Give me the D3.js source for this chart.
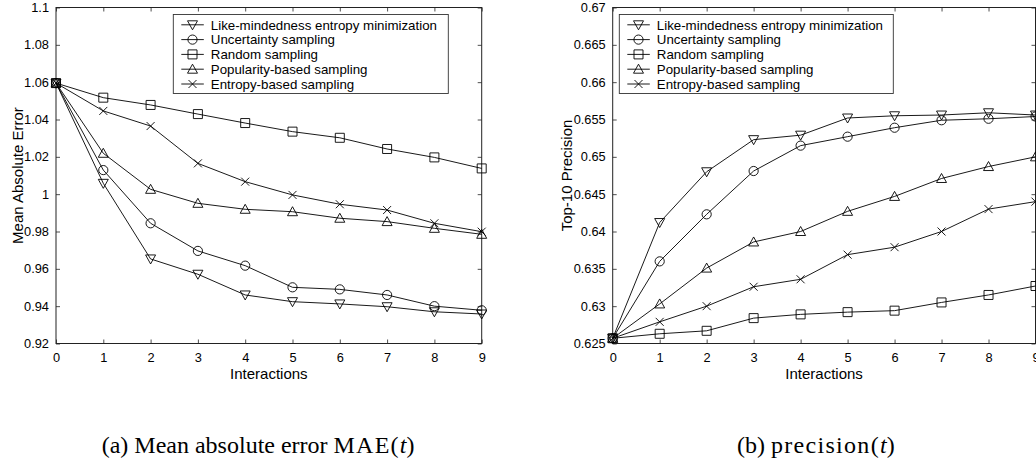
<!DOCTYPE html>
<html><head><meta charset="utf-8">
<script src="https://cdn.jsdelivr.net/npm/d3@7"></script>
<style>
body{margin:0;background:#fff;}
svg{display:block;}
text{font-family:"Liberation Sans",Arial,sans-serif;fill:#000;}
.cap{font-family:"Liberation Serif","Times New Roman",serif;}
</style></head>
<body><svg id="c" width="1036" height="462"></svg>
<script>
const interactions = [0,1,2,3,4,5,6,7,8,9];
const seriesNames = ["Like-mindedness entropy minimization","Uncertainty sampling","Random sampling","Popularity-based sampling","Entropy-based sampling"];
const markerTypes = ["tridown","circle","square","triup","cross"];

const maeLike = [1.0595,1.0058,0.9653,0.9571,0.9460,0.9424,0.9412,0.9397,0.9370,0.9358];
const maeUnc  = [1.0595,1.0129,0.9844,0.9696,0.9617,0.9501,0.9490,0.9460,0.9400,0.9378];
const maeRand = [1.0595,1.0517,1.0478,1.0429,1.0381,1.0335,1.0302,1.0242,1.0197,1.0138];
const maePop  = [1.0595,1.0219,1.0026,0.9951,0.9919,0.9906,0.9871,0.9853,0.9817,0.9785];
const maeEnt  = [1.0595,1.0446,1.0365,1.0165,1.0067,0.9996,0.9946,0.9915,0.9844,0.9799];

const precLike = [0.6257,0.6412,0.6480,0.6523,0.6529,0.6552,0.6555,0.6556,0.6559,0.6556];
const precUnc  = [0.6257,0.6360,0.6423,0.6481,0.6515,0.6527,0.6539,0.6549,0.6551,0.6554];
const precRand = [0.6257,0.6263,0.6267,0.6284,0.6289,0.6292,0.6294,0.6305,0.6315,0.6327];
const precPop  = [0.6257,0.6303,0.6351,0.6386,0.6400,0.6427,0.6447,0.6471,0.6487,0.6500];
const precEnt  = [0.6257,0.6279,0.6300,0.6326,0.6336,0.6369,0.6379,0.6400,0.6430,0.6440];

const maeTicks = [0.92,0.94,0.96,0.98,1,1.02,1.04,1.06,1.08,1.1];
const maeTickLabels = ["0.92","0.94","0.96","0.98","1","1.02","1.04","1.06","1.08","1.1"];
const precTicks = [0.625,0.63,0.635,0.64,0.645,0.65,0.655,0.66,0.665,0.67];
const precTickLabels = ["0.625","0.63","0.635","0.64","0.645","0.65","0.655","0.66","0.665","0.67"];

const svg = d3.select("#c");
svg.append("rect").attr("width",1036).attr("height",462).attr("fill","#fff");

function markerPath(type){
  switch(type){
    case "tridown": return "M-5,-4L5,-4L0,5Z";
    case "triup": return "M-5,4L5,4L0,-5Z";
    case "square": return "M-4.5,-4.5H4.5V4.5H-4.5Z";
    case "cross": return "M-4,-4L4,4M-4,4L4,-4";
  }
}
function drawMarker(g, type, x, y){
  if(type==="circle"){
    g.append("circle").attr("cx",x).attr("cy",y).attr("r",4.6)
      .attr("fill","none").attr("stroke","#000").attr("stroke-width",0.9);
  } else {
    g.append("path").attr("d",markerPath(type)).attr("transform",`translate(${x},${y})`)
      .attr("fill","none").attr("stroke","#000").attr("stroke-width",0.9);
  }
}

function chart(cfg){
  const x = d3.scaleLinear().domain([0,9]).range([cfg.x0,cfg.x1]);
  const y = d3.scaleLinear().domain(cfg.domain).range([cfg.y1,cfg.y0]);
  const g = svg.append("g");
  const tl = 4;
  const bottom = g.append("g").attr("transform",`translate(0,${cfg.y1})`)
    .call(d3.axisBottom(x).tickValues(interactions).tickSize(-tl).tickPadding(tl+5).tickFormat(d3.format("d")));
  const top = g.append("g").attr("transform",`translate(0,${cfg.y0})`)
    .call(d3.axisTop(x).tickValues(interactions).tickSize(-tl).tickFormat(""));
  const left = g.append("g").attr("transform",`translate(${cfg.x0},0)`)
    .call(d3.axisLeft(y).tickValues(cfg.ticks).tickSize(-tl).tickPadding(3+tl).tickFormat((d,i)=>cfg.tickLabels[i]));
  const right = g.append("g").attr("transform",`translate(${cfg.x1},0)`)
    .call(d3.axisRight(y).tickValues(cfg.ticks).tickSize(-tl).tickFormat(""));
  [bottom,top,left,right].forEach(a=>{
    a.select(".domain").remove();
    a.selectAll(".tick line").attr("stroke","#222").attr("stroke-width",0.8);
    a.selectAll("text").style("font-family","'Liberation Sans',Arial,sans-serif").style("font-size","12.8px").attr("fill","#000");
  });
  g.append("rect").attr("x",cfg.x0).attr("y",cfg.y0).attr("width",cfg.x1-cfg.x0).attr("height",cfg.y1-cfg.y0)
    .attr("fill","none").attr("stroke","#222").attr("stroke-width",1);
  g.append("text").attr("x",(cfg.x0+cfg.x1)/2).attr("y",379).attr("text-anchor","middle")
    .style("font-size","15px").text("Interactions");
  g.append("text").attr("transform",`translate(${cfg.ylabX},${(cfg.y0+cfg.y1)/2}) rotate(-90)`)
    .attr("text-anchor","middle").style("font-size","15px").text(cfg.ylab);
  const line = d3.line().x((d,i)=>x(interactions[i])).y(d=>y(d));
  cfg.series.forEach((s,k)=>{
    g.append("path").attr("d",line(s)).attr("fill","none").attr("stroke","#000").attr("stroke-width",0.9);
  });
  cfg.series.forEach((s,k)=>{
    s.forEach((v,i)=>drawMarker(g,markerTypes[k],x(interactions[i]),y(v)));
  });
  const lg = g.append("g");
  lg.append("rect").attr("x",cfg.lx).attr("y",cfg.ly).attr("width",cfg.lw).attr("height",cfg.lh)
    .attr("fill","#fff").attr("stroke","#333").attr("stroke-width",0.9);
  seriesNames.forEach((n,k)=>{
    const yy = cfg.ly+10.3+k*14.8;
    lg.append("line").attr("x1",cfg.lx+8).attr("x2",cfg.lx+30.5).attr("y1",yy).attr("y2",yy)
      .attr("stroke","#000").attr("stroke-width",0.9);
    drawMarker(lg,markerTypes[k],cfg.lx+19.2,yy);
    lg.append("text").attr("x",cfg.lx+37.5).attr("y",yy).attr("dy","0.36em")
      .style("font-size","13.3px").text(n);
  });
}

chart({x0:56,x1:481.7,y0:7.5,y1:343.5,domain:[0.92,1.1],ticks:maeTicks,tickLabels:maeTickLabels,
  ylab:"Mean Absolute Error",ylabX:23,series:[maeLike,maeUnc,maeRand,maePop,maeEnt],
  lx:173.3,ly:14.5,lw:275,lh:79});
chart({x0:612.7,x1:1035.5,y0:7.5,y1:343.5,domain:[0.625,0.67],ticks:precTicks,tickLabels:precTickLabels,
  ylab:"Top-10 Precision",ylabX:572,series:[precLike,precUnc,precRand,precPop,precEnt],
  lx:619.3,ly:14.5,lw:274,lh:79});

// captions
const capA = svg.append("text").attr("class","cap").attr("x",101.7).attr("y",453).style("font-size","24px");
capA.append("tspan").text("(a) Mean absolute error ");
capA.append("tspan").style("letter-spacing","1.2px").text("MAE(");
capA.append("tspan").style("font-style","italic").text("t");
capA.append("tspan").text(")");
const capB = svg.append("text").attr("class","cap").attr("x",737).attr("y",453).style("font-size","24px");
capB.append("tspan").text("(b) ");
capB.append("tspan").style("letter-spacing","1.3px").text("precision(");
capB.append("tspan").style("font-style","italic").text("t");
capB.append("tspan").text(")");
</script></body></html>
